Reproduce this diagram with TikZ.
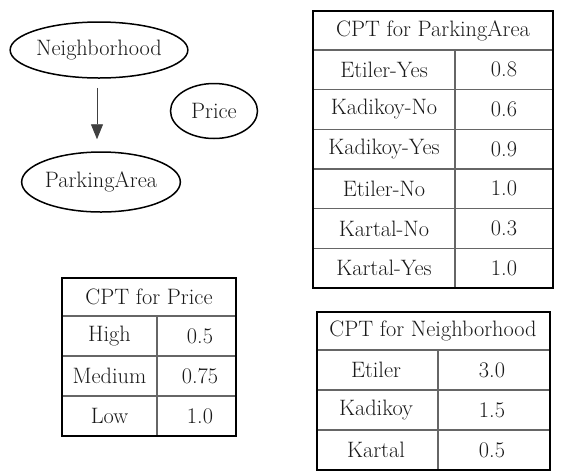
\documentclass[tikz,border=0pt]{standalone}
\usetikzlibrary{shapes.geometric,arrows.meta}
\begin{document}
\begin{tikzpicture}[x=1pt,y=-1pt,
  every node/.style={font=\fontsize{22.3}{26}\selectfont, inner sep=0pt, text=black!90},
  var/.style={ellipse, draw=black, line width=1.5pt},
  edge/.style={draw=black!75, line width=0.9pt,
    -{Triangle[length=15pt,width=12pt]}, shorten <=9pt, shorten >=12pt},
  outer/.style={draw=black, line width=1.8pt},
  inner/.style={draw=black!60, line width=1.5pt},
  cell/.style={anchor=center}]
\useasboundingbox (0,0) rectangle (567,475);

% Bayesian network
\node[var, minimum width=172pt, minimum height=56pt] (nb) at (99,50) {Neighborhood};
\node[var, minimum width=87pt, minimum height=55pt] (pr) at (214,111) {Price};
\node[var, minimum width=154pt, minimum height=60pt] (pa) at (101,182) {ParkingArea};
\draw[edge] (nb.south -| 97,0) -- (pa.north -| 97,0);

% CPT for ParkingArea
\foreach \y in {50,89.7,129.3,169,208.7,248.3} \draw[inner] (313,\y) -- (553,\y);
\draw[inner] (455,50) -- (455,288);
\draw[outer] (313,11) rectangle (553,288);
\node[cell] (pah) at (433,30.5) {CPT for ParkingArea};
\node[cell] (pa1) at (384,69.8) {Etiler-Yes};
\node[cell] (pa1v) at (504,69.8) {0.8};
\node[cell] (pa2) at (384,109.5) {Kadikoy-No};
\node[cell] (pa2v) at (504,109.5) {0.6};
\node[cell] (pa3) at (384,149.2) {Kadikoy-Yes};
\node[cell] (pa3v) at (504,149.2) {0.9};
\node[cell] (pa4) at (384,188.8) {Etiler-No};
\node[cell] (pa4v) at (504,188.8) {1.0};
\node[cell] (pa5) at (384,228.5) {Kartal-No};
\node[cell] (pa5v) at (504,228.5) {0.3};
\node[cell] (pa6) at (384,268.2) {Kartal-Yes};
\node[cell] (pa6v) at (504,268.2) {1.0};

% CPT for Price
\foreach \y in {316,356,396} \draw[inner] (62,\y) -- (236,\y);
\draw[inner] (157,316) -- (157,436);
\draw[outer] (62,278) rectangle (236,436);
\node[cell] (prh) at (149,297) {CPT for Price};
\node[cell] (pr1) at (109.5,336) {High};
\node[cell] (pr1v) at (200,336) {0.5};
\node[cell] (pr2) at (109.5,376) {Medium};
\node[cell] (pr2v) at (200,376) {0.75};
\node[cell] (pr3) at (109.5,416) {Low};
\node[cell] (pr3v) at (200,416) {1.0};

% CPT for Neighborhood
\foreach \y in {350,390,430} \draw[inner] (317,\y) -- (550,\y);
\draw[inner] (438,350) -- (438,470);
\draw[outer] (317,312) rectangle (550,470);
\node[cell] (nbh) at (433,331) {CPT for Neighborhood};
\node[cell] (nb1) at (376,370) {Etiler};
\node[cell] (nb1v) at (492,370) {3.0};
\node[cell] (nb2) at (376,410) {Kadikoy};
\node[cell] (nb2v) at (492,410) {1.5};
\node[cell] (nb3) at (376,450) {Kartal};
\node[cell] (nb3v) at (492,450) {0.5};
\end{tikzpicture}
\end{document}
